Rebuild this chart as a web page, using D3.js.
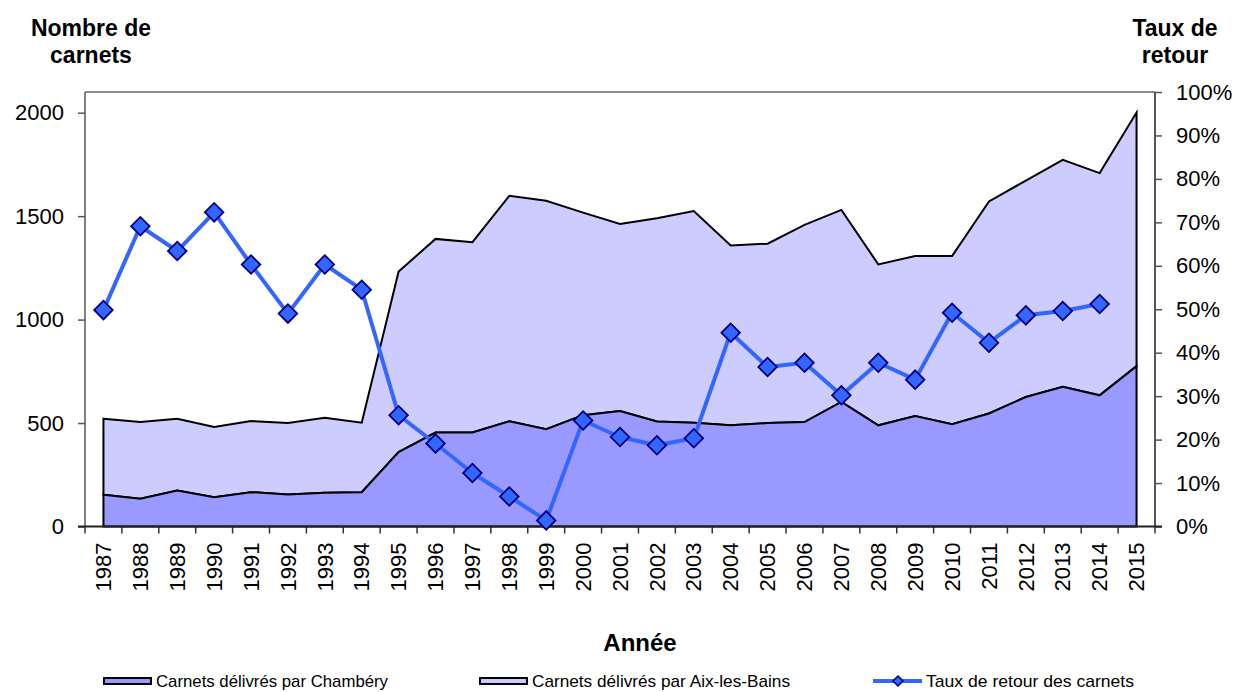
<!DOCTYPE html>
<html>
<head>
<meta charset="utf-8">
<script src="https://cdn.jsdelivr.net/npm/d3@7"></script>
<style>
  html, body { margin: 0; padding: 0; background: #fff; }
  svg { display: block; font-family: "Liberation Sans", Arial, sans-serif; }
</style>
</head>
<body>
<svg id="chart" width="1240" height="692"></svg>
<script>
// Carnets délivrés et taux de retour, 1987–2015
const years = d3.range(1987, 2016).map(String);
const chambery = [153, 134, 174, 142, 166, 155, 163, 166, 360, 454, 454, 508, 470, 538, 558, 508, 502, 489, 500, 505, 602, 489, 534, 494, 546, 626, 675, 634, 775];
const aixLesBains = [368, 371, 347, 339, 344, 345, 363, 336, 872, 936, 920, 1090, 1104, 979, 904, 982, 1023, 869, 867, 953, 928, 778, 773, 813, 1025, 1046, 1097, 1074, 1226];
const tauxRetour = [0.498, 0.691, 0.634, 0.723, 0.603, 0.490, 0.603, 0.545, 0.256, 0.191, 0.123, 0.069, 0.014, 0.244, 0.206, 0.187, 0.203, 0.446, 0.367, 0.377, 0.302, 0.377, 0.338, 0.492, 0.423, 0.486, 0.496, 0.512, null];
const leftTicks = [0, 500, 1000, 1500, 2000];
const rightTicks = d3.range(0, 11).map(d => d / 10);

const colChambery = "#9999ff";
const colAix = "#ccccff";
const colLine = "#3366ff";
const colMarker = "#000080";

const svg = d3.select("#chart");
const plot = { left: 85, right: 1155, top: 92, bottom: 526.5 };

const x = d3.scaleBand().domain(years).range([plot.left, plot.right]).padding(0);
const cx = d => x(d) + x.bandwidth() / 2;
const yL = d3.scaleLinear().domain([0, 2100]).range([plot.bottom, plot.top]);
const yR = d3.scaleLinear().domain([0, 1]).range([plot.bottom, plot.top]);

// stacked areas
const rows = years.map((yr, i) => ({ year: yr, chambery: chambery[i], aix: aixLesBains[i] }));
const series = d3.stack().keys(["chambery", "aix"])(rows);
const area = d3.area()
  .x(d => cx(d.data.year))
  .y0(d => yL(d[0]))
  .y1(d => yL(d[1]));

svg.append("g").selectAll("path")
  .data(series.slice().reverse())
  .join("path")
  .attr("d", area)
  .attr("fill", d => d.key === "chambery" ? colChambery : colAix)
  .attr("stroke", "#000")
  .attr("stroke-width", 2)
  .attr("stroke-linejoin", "miter");

// frame: top border and axes lines
svg.append("line").attr("x1", plot.left).attr("x2", plot.right).attr("y1", plot.top).attr("y2", plot.top)
  .attr("stroke", "#8c8c8c").attr("stroke-width", 2);

// left axis
const gL = svg.append("g").attr("transform", `translate(${plot.left},0)`)
  .call(d3.axisLeft(yL).tickValues(leftTicks).tickSize(7).tickPadding(14).tickFormat(d3.format("d")));
gL.select(".domain").attr("stroke", "#808080").attr("stroke-width", 2)
  .attr("d", `M0,${plot.top}V${plot.bottom}`);
gL.selectAll(".tick line").attr("stroke", "#555").attr("stroke-width", 1.5);
gL.selectAll(".tick text").attr("font-size", 22).attr("fill", "#000")
  .attr("font-family", "'Liberation Sans', Arial, sans-serif");

// right axis
const gR = svg.append("g").attr("transform", `translate(${plot.right},0)`)
  .call(d3.axisRight(yR).tickValues(rightTicks).tickSize(7).tickPadding(14).tickFormat(d3.format(".0%")));
gR.select(".domain").attr("stroke", "#555").attr("stroke-width", 2)
  .attr("d", `M0,${plot.top}V${plot.bottom}`);
gR.selectAll(".tick line").attr("stroke", "#555").attr("stroke-width", 1.5);
gR.selectAll(".tick text").attr("font-size", 22).attr("fill", "#000")
  .attr("font-family", "'Liberation Sans', Arial, sans-serif");

// bottom axis: labels at category centres, ticks at category boundaries
const gB = svg.append("g").attr("transform", `translate(0,${plot.bottom})`)
  .call(d3.axisBottom(x).tickSize(0).tickPadding(0));
gB.select(".domain").remove();
gB.selectAll(".tick text")
  .attr("font-size", 22).attr("fill", "#000")
  .attr("font-family", "'Liberation Sans', Arial, sans-serif")
  .attr("transform", "rotate(-90)")
  .attr("text-anchor", "end")
  .attr("x", -16).attr("y", 0).attr("dy", "0.35em");

const bounds = years.map(d => x(d)).concat([plot.right]);
svg.append("g").selectAll("line").data(bounds).join("line")
  .attr("x1", d => d).attr("x2", d => d)
  .attr("y1", plot.bottom).attr("y2", plot.bottom + 7)
  .attr("stroke", "#333").attr("stroke-width", 1.5);
svg.append("line").attr("x1", plot.left - 7).attr("x2", plot.right + 7)
  .attr("y1", plot.bottom).attr("y2", plot.bottom)
  .attr("stroke", "#222").attr("stroke-width", 2);

// return-rate line with diamond markers
const pts = years.map((yr, i) => ({ year: yr, v: tauxRetour[i] })).filter(d => d.v != null);
const line = d3.line().x(d => cx(d.year)).y(d => yR(d.v));
svg.append("path").datum(pts).attr("d", line)
  .attr("fill", "none").attr("stroke", colLine).attr("stroke-width", 4).attr("stroke-linejoin", "round");

const diamond = d3.symbol().type(d3.symbolSquare).size(172);
svg.append("g").selectAll("path").data(pts).join("path")
  .attr("d", diamond)
  .attr("transform", d => `translate(${cx(d.year)},${yR(d.v)}) rotate(45)`)
  .attr("fill", colLine).attr("stroke", colMarker).attr("stroke-width", 1.8);

// titles
const bold = sel => sel.attr("font-weight", "bold").attr("font-size", 23).attr("fill", "#000").attr("text-anchor", "middle");
svg.append("text").attr("x", 91).attr("y", 36).text("Nombre de").call(bold);
svg.append("text").attr("x", 91).attr("y", 63).text("carnets").call(bold);
svg.append("text").attr("x", 1175).attr("y", 36).text("Taux de").call(bold);
svg.append("text").attr("x", 1175).attr("y", 63).text("retour").call(bold);
svg.append("text").attr("x", 640).attr("y", 651).text("Année").call(bold).attr("font-size", 24);

// legend
const lg = svg.append("g").attr("font-size", 17).attr("fill", "#000");
const legendY = 681;
[[colChambery, 104, "Carnets délivrés par Chambéry", 156, 232],
 [colAix, 480, "Carnets délivrés par Aix-les-Bains", 532, 258]].forEach(([c, sx, label, tx, tl]) => {
  lg.append("rect").attr("x", sx).attr("y", legendY - 3).attr("width", 47).attr("height", 6)
    .attr("fill", c).attr("stroke", "#000").attr("stroke-width", 2);
  lg.append("text").attr("x", tx).attr("y", legendY).attr("dy", "0.35em")
    .attr("textLength", tl).attr("lengthAdjust", "spacingAndGlyphs").text(label);
});
lg.append("line").attr("x1", 873).attr("x2", 922).attr("y1", legendY).attr("y2", legendY)
  .attr("stroke", colLine).attr("stroke-width", 4);
lg.append("path").attr("d", d3.symbol().type(d3.symbolSquare).size(50))
  .attr("transform", `translate(898,${legendY}) rotate(45)`)
  .attr("fill", colLine).attr("stroke", colMarker).attr("stroke-width", 1.5);
lg.append("text").attr("x", 926).attr("y", legendY).attr("dy", "0.35em")
  .attr("textLength", 208).attr("lengthAdjust", "spacingAndGlyphs").text("Taux de retour des carnets");
</script>
</body>
</html>
